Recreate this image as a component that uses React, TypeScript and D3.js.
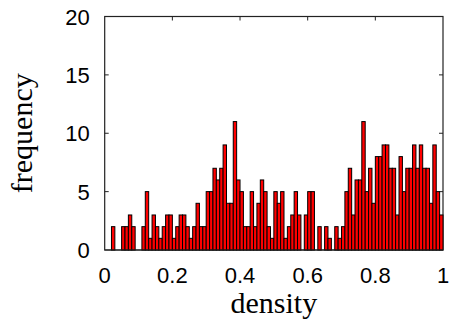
import React from 'react';
import * as d3 from 'd3';

// histogram counts, 100 bins of width 0.01 on [0, 1]
const counts = [
  0, 0, 2, 0, 0, 2, 2, 3, 2, 0,
  0, 2, 5, 1, 3, 2, 1, 2, 3, 3,
  1, 2, 3, 3, 2, 1, 2, 4, 2, 2,
  5, 5, 7, 6, 7, 9, 4, 4, 11, 6,
  5, 2, 2, 5, 2, 4, 6, 5, 2, 1,
  5, 4, 5, 1, 2, 3, 5, 3, 0, 3,
  5, 5, 0, 2, 0, 2, 1, 0, 2, 1,
  2, 5, 7, 3, 6, 6, 11, 5, 7, 4,
  8, 8, 9, 9, 7, 7, 3, 8, 5, 7,
  7, 9, 7, 9, 7, 7, 4, 9, 5, 3,
];
const binWidth = 0.01;
const xTicks = [0, 0.2, 0.4, 0.6, 0.8, 1];
const yTicks = [0, 5, 10, 15, 20];

const width = 451;
const height = 323;
const margin = { top: 16.5, right: 8, bottom: 73, left: 104.7 };

export default function App() {
  const x = d3.scaleLinear().domain([0, 1]).range([margin.left, width - margin.right]);
  const y = d3.scaleLinear().domain([0, 20]).range([height - margin.bottom, margin.top]);

  const x0 = x(0), x1 = x(1), y0 = y(0), y1 = y(20);
  const tickLen = 4;
  const axisColor = '#222';
  const sans = '"Liberation Sans", Arial, sans-serif';
  const serif = '"Liberation Serif", "Times New Roman", serif';

  return (
    <svg width={width} height={height} style={{ position: 'absolute', left: 0, top: 0, background: 'white' }}>
      {/* frame */}
      <rect x={x0} y={y1} width={x1 - x0} height={y0 - y1} fill="none" stroke={axisColor} strokeWidth={1.2} />

      {/* inward ticks */}
      {yTicks.slice(1, -1).map((t) => (
        <g key={'yt' + t}>
          <line x1={x0} x2={x0 + tickLen} y1={y(t)} y2={y(t)} stroke={axisColor} />
          <line x1={x1} x2={x1 - tickLen} y1={y(t)} y2={y(t)} stroke={axisColor} />
        </g>
      ))}
      {xTicks.slice(1, -1).map((t) => (
        <g key={'xt' + t}>
          <line x1={x(t)} x2={x(t)} y1={y1} y2={y1 + tickLen} stroke={axisColor} />
          <line x1={x(t)} x2={x(t)} y1={y0} y2={y0 - tickLen} stroke={axisColor} />
        </g>
      ))}

      {/* bars */}
      {counts.map((c, i) =>
        c > 0 ? (
          <rect
            key={i}
            x={x(i * binWidth)}
            y={y(c)}
            width={x((i + 1) * binWidth) - x(i * binWidth)}
            height={y0 - y(c)}
            fill="#ff0000"
            stroke="#000"
            strokeWidth={1}
          />
        ) : null
      )}

      {/* baseline over bars */}
      <line x1={x0} x2={x1} y1={y0} y2={y0} stroke={axisColor} strokeWidth={1.2} />

      {/* tick labels */}
      {yTicks.map((t) => (
        <text key={'yl' + t} x={x0 - 15} y={y(t) + 8} textAnchor="end" fontFamily={sans} fontSize={22} fill="#000">
          {t}
        </text>
      ))}
      {xTicks.map((t) => (
        <text key={'xl' + t} x={x(t)} y={283} textAnchor="middle" fontFamily={sans} fontSize={22} fill="#000">
          {String(t)}
        </text>
      ))}

      {/* axis titles */}
      <text x={(x0 + x1) / 2} y={313} textAnchor="middle" fontFamily={serif} fontSize={30} fill="#000">
        density
      </text>
      <text
        transform={`translate(32, ${(y0 + y1) / 2}) rotate(-90)`}
        textAnchor="middle"
        fontFamily={serif}
        fontSize={30}
        fill="#000"
      >
        frequency
      </text>
    </svg>
  );
}
